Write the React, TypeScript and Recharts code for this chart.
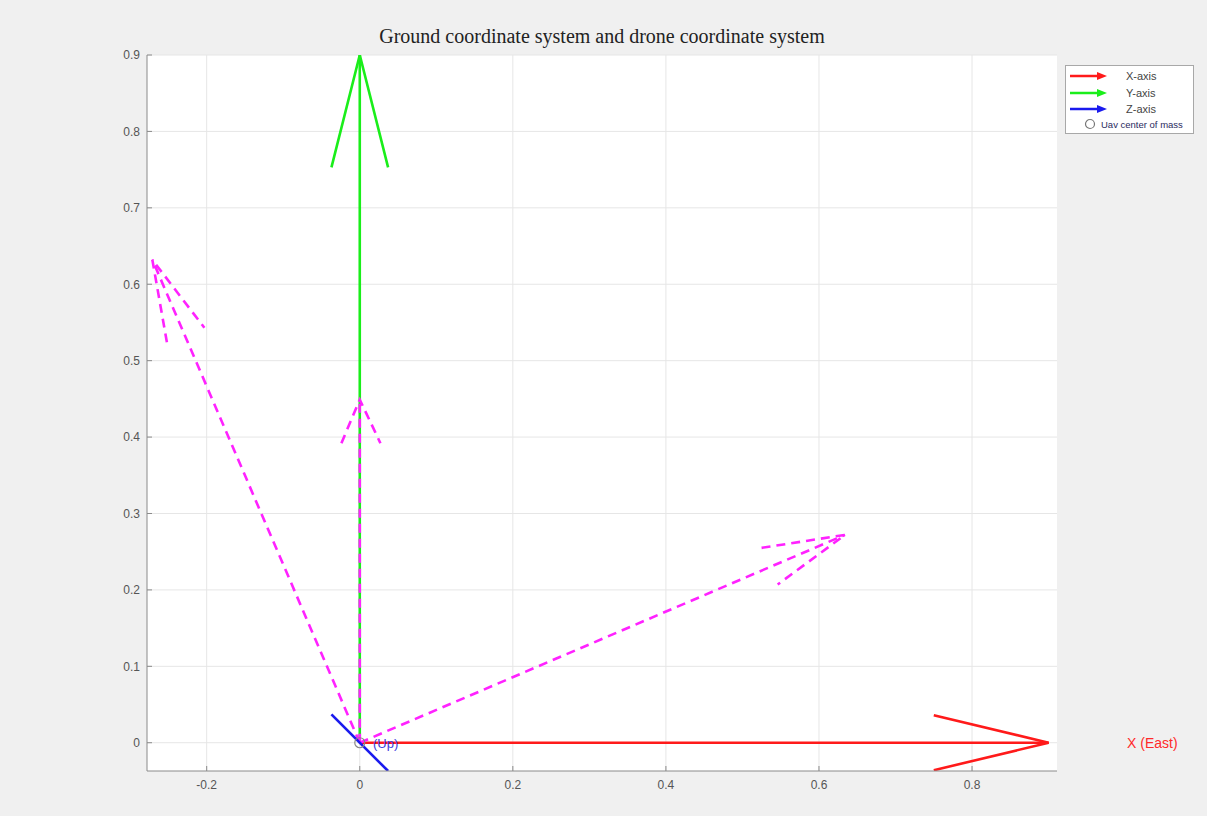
import React from 'react';
import { ComposedChart, Line, Scatter, XAxis, YAxis, CartesianGrid } from 'recharts';

const xTicks = [-0.2, 0, 0.2, 0.4, 0.6, 0.8];
const yTicks = [0, 0.1, 0.2, 0.3, 0.4, 0.5, 0.6, 0.7, 0.8, 0.9];
const xDomain = [-0.278, 0.911];
const yDomain = [-0.037, 0.9];

// Ground coordinate system (solid arrows)
const groundXShaft = [{ x: 0, y: 0 }, { x: 0.9, y: 0 }];
const groundXHead = [{ x: 0.75, y: 0.036 }, { x: 0.9, y: 0 }, { x: 0.75, y: -0.036 }];
const groundYShaft = [{ x: 0, y: 0 }, { x: 0, y: 0.9 }];
const groundYHead = [{ x: -0.037, y: 0.753 }, { x: 0, y: 0.9 }, { x: 0.037, y: 0.753 }];
const groundZ = [{ x: -0.037, y: 0.037 }, { x: 0.037, y: -0.037 }];

// Drone coordinate system (dashed arrows)
const droneAShaft = [{ x: 0, y: 0 }, { x: -0.271, y: 0.632 }];
const droneAHead = [{ x: -0.252, y: 0.524 }, { x: -0.271, y: 0.632 }, { x: -0.203, y: 0.543 }];
const droneBShaft = [{ x: 0, y: 0 }, { x: 0.634, y: 0.272 }];
const droneBHead = [{ x: 0.525, y: 0.255 }, { x: 0.634, y: 0.272 }, { x: 0.546, y: 0.207 }];
const droneCShaft = [{ x: 0, y: 0 }, { x: 0, y: 0.449 }];
const droneCHead = [{ x: -0.024, y: 0.392 }, { x: 0, y: 0.449 }, { x: 0.027, y: 0.392 }];

const centerOfMass = [{ x: 0, y: 0 }];

const legendItems = [
  { label: 'X-axis', color: '#ff1a1a', kind: 'arrow' },
  { label: 'Y-axis', color: '#1aee1a', kind: 'arrow' },
  { label: 'Z-axis', color: '#1a1aee', kind: 'arrow' },
  { label: 'Uav center of mass', color: '#777777', kind: 'circle' },
];

const RED = '#ff1a1a';
const GREEN = '#1aee1a';
const BLUE = '#1a1aee';
const MAGENTA = '#ff22ff';

const fmt = (v: number) => (v === 0 ? '0' : String(v));

const LegendBox = () => (
  <div
    style={{
      position: 'absolute',
      left: 1065,
      top: 65,
      border: '1px solid #a8a8a8',
      background: '#ffffff',
      width: 129,
      height: 69,
      boxSizing: 'border-box',
      fontFamily: 'Arial, "Liberation Sans", sans-serif',
      paddingTop: 2,
    }}
  >
    {legendItems.map((it) =>
      it.kind === 'arrow' ? (
        <div key={it.label} style={{ display: 'flex', alignItems: 'center', height: 16.5 }}>
          <svg width={42} height={10} style={{ marginLeft: 3 }}>
            <line x1={1} y1={5} x2={32} y2={5} stroke={it.color} strokeWidth={2.5} />
            <polygon points="28,1 38,5 28,9" fill={it.color} />
          </svg>
          <span style={{ fontSize: 11, color: '#444', marginLeft: 15 }}>{it.label}</span>
        </div>
      ) : (
        <div key={it.label} style={{ display: 'flex', alignItems: 'center', height: 13 }}>
          <svg width={12} height={12} style={{ marginLeft: 18 }}>
            <circle cx={6} cy={6} r={4.5} fill="none" stroke={it.color} strokeWidth={1.2} />
          </svg>
          <span style={{ fontSize: 9.5, color: '#2a2a60', marginLeft: 5, whiteSpace: 'nowrap' }}>{it.label}</span>
        </div>
      )
    )}
  </div>
);

const lineProps = {
  type: 'linear' as const,
  dataKey: 'y',
  dot: false,
  activeDot: false,
  isAnimationActive: false,
  legendType: 'none' as const,
  strokeWidth: 2.6,
};

const tickStyle = { fill: '#555', fontSize: 12, fontFamily: 'Arial, "Liberation Sans", sans-serif' };

export default function App() {
  return (
    <div style={{ position: 'absolute', left: 0, top: 0, width: 1207, height: 816, background: '#f0f0f0' }}>
      <div
        style={{
          position: 'absolute',
          left: 147,
          width: 910,
          top: 25,
          textAlign: 'center',
          fontFamily: '"Liberation Serif", "Times New Roman", serif',
          fontSize: 20,
          color: '#222',
        }}
      >
        Ground coordinate system and drone coordinate system
      </div>
      <ComposedChart width={1207} height={816} margin={{ top: 55, right: 150, bottom: 15, left: 107 }}>
        <CartesianGrid fill="#ffffff" stroke="#e6e6e6" horizontalValues={yTicks} verticalValues={xTicks} />
        <XAxis
          type="number"
          dataKey="x"
          domain={xDomain}
          ticks={xTicks}
          tickFormatter={fmt}
          allowDataOverflow
          height={30}
          axisLine={{ stroke: '#8a8a8a' }}
          tickLine={{ stroke: '#8a8a8a' }}
          tickSize={-5}
          tickMargin={14}
          tick={tickStyle}
        />
        <YAxis
          type="number"
          dataKey="y"
          domain={yDomain}
          ticks={yTicks}
          tickFormatter={fmt}
          allowDataOverflow
          width={40}
          axisLine={{ stroke: '#8a8a8a' }}
          tickLine={{ stroke: '#8a8a8a' }}
          tickSize={-5}
          tickMargin={12}
          tick={tickStyle}
        />
        <Line {...lineProps} data={groundXShaft} stroke={RED} />
        <Line {...lineProps} data={groundXHead} stroke={RED} />
        <Line {...lineProps} data={groundYShaft} stroke={GREEN} />
        <Line {...lineProps} data={groundYHead} stroke={GREEN} />
        <Line {...lineProps} data={droneAShaft} stroke={MAGENTA} strokeDasharray="9 6" />
        <Line {...lineProps} data={droneAHead} stroke={MAGENTA} strokeDasharray="9 6" />
        <Line {...lineProps} data={droneBShaft} stroke={MAGENTA} strokeDasharray="9 6" />
        <Line {...lineProps} data={droneBHead} stroke={MAGENTA} strokeDasharray="9 6" />
        <Line {...lineProps} data={droneCShaft} stroke={MAGENTA} strokeDasharray="9 6" />
        <Line {...lineProps} data={droneCHead} stroke={MAGENTA} strokeDasharray="9 6" />
        <Scatter
          data={centerOfMass}
          dataKey="y"
          isAnimationActive={false}
          legendType="none"
          shape={(p: any) => <circle cx={p.cx} cy={p.cy} r={5} fill="none" stroke="#888" strokeWidth={1.2} />}
        />
        <Line {...lineProps} data={groundZ} stroke={BLUE} />
      </ComposedChart>
      <LegendBox />
      <div
        style={{
          position: 'absolute',
          left: 373,
          top: 736,
          fontFamily: 'Arial, "Liberation Sans", sans-serif',
          fontSize: 13,
          color: '#3c3ce0',
        }}
      >
        (Up)
      </div>
      <div
        style={{
          position: 'absolute',
          left: 1127,
          top: 735,
          fontFamily: 'Arial, "Liberation Sans", sans-serif',
          fontSize: 14,
          color: '#ff2a2a',
        }}
      >
        X (East)
      </div>
    </div>
  );
}
